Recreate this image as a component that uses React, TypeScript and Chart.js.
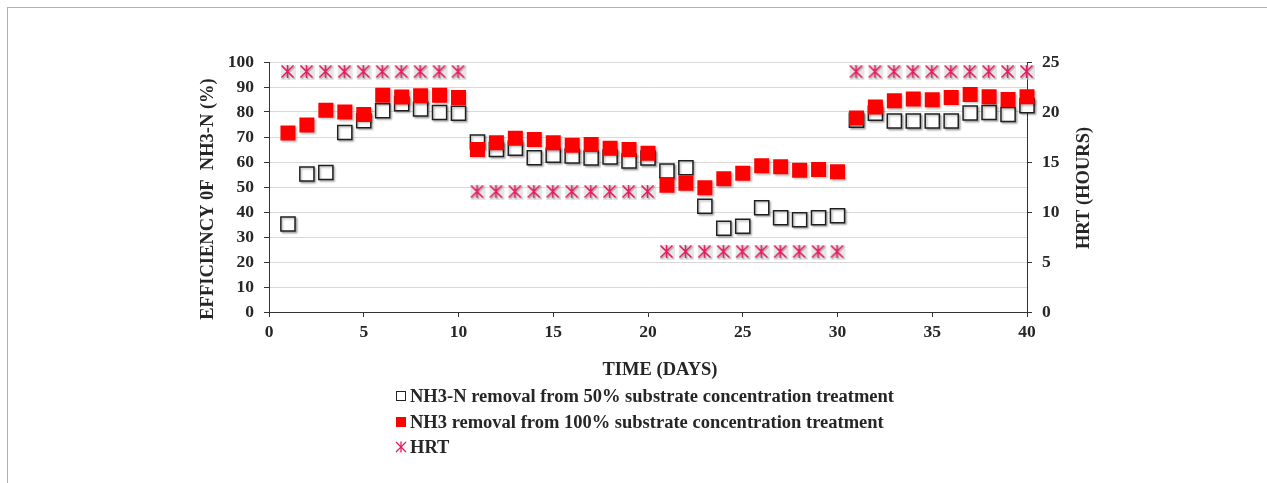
import React, { useEffect, useRef } from "react";
import { Chart, registerables } from "chart.js";

Chart.register(...registerables);

const days: number[] = Array.from({ length: 40 }, (_, i) => i + 1);

const removal50: number[] = [
  35.2, 55.2, 55.8, 71.8, 76.5, 80.5, 83.3, 81.2, 79.8, 79.5,
  68.0, 65.0, 65.5, 61.7, 62.7, 62.4, 61.6, 62.0, 60.4, 61.6,
  56.4, 57.7, 42.3, 33.5, 34.3, 41.7, 37.7, 36.9, 37.7, 38.5,
  76.7, 79.5, 76.4, 76.4, 76.4, 76.4, 79.6, 79.8, 79.0, 82.5,
];

const removal100: number[] = [
  71.6, 74.8, 80.7, 80.0, 79.0, 86.7, 86.0, 86.5, 86.7, 85.8,
  65.0, 67.7, 69.5, 69.0, 67.7, 66.7, 67.0, 65.5, 65.0, 63.5,
  50.7, 51.5, 49.7, 53.3, 55.5, 58.5, 58.1, 56.7, 57.0, 56.1,
  77.6, 82.0, 84.5, 85.2, 84.9, 85.8, 87.0, 86.1, 85.0, 86.1,
];

const hrt: number[] = [
  24, 24, 24, 24, 24, 24, 24, 24, 24, 24,
  12, 12, 12, 12, 12, 12, 12, 12, 12, 12,
  6, 6, 6, 6, 6, 6, 6, 6, 6, 6,
  24, 24, 24, 24, 24, 24, 24, 24, 24, 24,
];

const legendLabels: string[] = [
  "NH3-N removal from 50% substrate concentration treatment",
  "NH3 removal from 100% substrate concentration treatment",
  "HRT",
];

const xTitle = "TIME (DAYS)";
const yTitle = "EFFICIENCY 0F  NH3-N (%)";
const y2Title = "HRT (HOURS)";

const FONT = "'Liberation Serif', 'Times New Roman', serif";
const PINK = "#e8185e";
const TEXT = "#262626";
const TITLE_SIZE = 18.5;
const TICK_SIZE = 17.5;

function makeStar(): HTMLCanvasElement {
  const c = document.createElement("canvas");
  c.width = 18;
  c.height = 18;
  const ctx = c.getContext("2d")!;
  const draw = (ox: number, oy: number, color: string, w: number) => {
    ctx.strokeStyle = color;
    ctx.lineWidth = w;
    ctx.beginPath();
    ctx.moveTo(2.5 + ox, 2.5 + oy);
    ctx.lineTo(14.5 + ox, 14.5 + oy);
    ctx.moveTo(14.5 + ox, 2.5 + oy);
    ctx.lineTo(2.5 + ox, 14.5 + oy);
    ctx.moveTo(8.5 + ox, 2 + oy);
    ctx.lineTo(8.5 + ox, 15 + oy);
    ctx.stroke();
  };
  ctx.fillStyle = "rgba(200,200,200,0.45)";
  ctx.fillRect(2, 2, 15, 15);
  draw(1.2, 1.2, "rgba(140,140,140,0.55)", 1.6);
  draw(0, 0, PINK, 1.5);
  return c;
}

function LegendStar() {
  return (
    <svg width="12" height="12" viewBox="0 0 12 12" style={{ display: "block" }}>
      <g stroke={PINK} strokeWidth="1.3">
        <line x1="1" y1="1" x2="11" y2="11" />
        <line x1="11" y1="1" x2="1" y2="11" />
        <line x1="6" y1="0.5" x2="6" y2="11.5" />
      </g>
    </svg>
  );
}

export default function App() {
  const canvasRef = useRef<HTMLCanvasElement | null>(null);

  useEffect(() => {
    if (!canvasRef.current) return;
    const star = makeStar();
    const shadowPlugin = {
      id: "squareShadow",
      beforeDatasetDraw(chart: any, args: any) {
        if (args.index < 2) {
          const ctx = chart.ctx;
          ctx.save();
          ctx.shadowColor = "rgba(0,0,0,0.28)";
          ctx.shadowOffsetX = 1.5;
          ctx.shadowOffsetY = 1.5;
          ctx.shadowBlur = 2;
        }
      },
      afterDatasetDraw(chart: any, args: any) {
        if (args.index < 2) chart.ctx.restore();
      },
    };
    const titlePlugin = {
      id: "axisTitles",
      afterDraw(chart: any) {
        const { ctx, chartArea } = chart;
        const { left, right, top, bottom } = chartArea;
        ctx.save();
        ctx.font = `bold ${TITLE_SIZE}px ${FONT}`;
        ctx.fillStyle = TEXT;
        ctx.textAlign = "center";
        ctx.textBaseline = "middle";
        ctx.fillText(xTitle, (left + right) / 2 + 12, bottom + 58);
        ctx.save();
        ctx.translate(left - 61, (top + bottom) / 2 + 12);
        ctx.rotate(-Math.PI / 2);
        ctx.fillText(yTitle, 0, 0);
        ctx.restore();
        ctx.save();
        ctx.translate(right + 57, (top + bottom) / 2 + 1);
        ctx.rotate(-Math.PI / 2);
        ctx.fillText(y2Title, 0, 0);
        ctx.restore();
        ctx.restore();
      },
    };
    const tickFont = { family: FONT, size: TICK_SIZE, weight: "bold" as const };
    const chart = new Chart(canvasRef.current, {
      type: "scatter",
      data: {
        datasets: [
          {
            label: legendLabels[1],
            data: days.map((d, i) => ({ x: d, y: removal100[i] })),
            pointStyle: "rect",
            pointRadius: 10.6,
            backgroundColor: "#ff0000",
            borderColor: "#ff0000",
            borderWidth: 0,
            yAxisID: "y",
            clip: false,
          },
          {
            label: legendLabels[0],
            data: days.map((d, i) => ({ x: d, y: removal50[i] })),
            pointStyle: "rect",
            pointRadius: 10,
            backgroundColor: "#ffffff",
            borderColor: "#1f1f1f",
            borderWidth: 1.5,
            yAxisID: "y",
            clip: false,
          },
          {
            label: legendLabels[2],
            data: days.map((d, i) => ({ x: d, y: hrt[i] })),
            pointStyle: star as any,
            pointRadius: 8,
            yAxisID: "y2",
            clip: false,
          },
        ],
      },
      options: {
        animation: false,
        responsive: true,
        maintainAspectRatio: false,
        layout: { padding: { left: 196, right: 169, top: 62, bottom: 98 } },
        plugins: { legend: { display: false }, tooltip: { enabled: false } },
        scales: {
          x: {
            type: "linear",
            min: 0,
            max: 40,
            afterFit: (s: any) => {
              s.height = 73;
            },
            ticks: { stepSize: 5, color: TEXT, font: tickFont, padding: 5, maxRotation: 0 },
            grid: { drawOnChartArea: false, tickLength: 5, tickColor: "#333", drawTicks: true },
            border: { color: "#333", width: 1 },
          },
          y: {
            type: "linear",
            position: "left",
            min: 0,
            max: 100,
            afterFit: (s: any) => {
              s.width = 73;
            },
            ticks: { stepSize: 10, color: TEXT, font: tickFont, padding: 10 },
            grid: { color: "#d9d9d9", lineWidth: 1, tickLength: 5, tickColor: "#333" },
            border: { color: "#333", width: 1 },
          },
          y2: {
            type: "linear",
            position: "right",
            min: 0,
            max: 25,
            afterFit: (s: any) => {
              s.width = 71;
            },
            ticks: { stepSize: 5, color: TEXT, font: tickFont, padding: 10 },
            grid: { drawOnChartArea: false, tickLength: 5, tickColor: "#333" },
            border: { color: "#333", width: 1 },
          },
        },
      },
      plugins: [shadowPlugin, titlePlugin],
    });
    return () => chart.destroy();
  }, []);

  const legendText: React.CSSProperties = {
    position: "absolute",
    left: 410,
    fontFamily: FONT,
    fontWeight: "bold",
    fontSize: TITLE_SIZE,
    color: TEXT,
    lineHeight: "20px",
    whiteSpace: "nowrap",
  };

  return (
    <div
      style={{
        position: "fixed",
        left: 0,
        top: 0,
        width: 1267,
        height: 483,
        background: "#fff",
        overflow: "hidden",
      }}
    >
      <div
        style={{
          position: "absolute",
          left: 7,
          top: 7,
          width: 1300,
          height: 520,
          borderTop: "1px solid #b0b0b0",
          borderLeft: "1px solid #b0b0b0",
        }}
      />
      <div style={{ position: "absolute", left: 0, top: 0, width: 1267, height: 483 }}>
        <canvas ref={canvasRef} />
      </div>
      <div
        style={{
          position: "absolute",
          left: 396,
          top: 391,
          width: 8,
          height: 8,
          border: "1px solid #222",
          background: "#fff",
        }}
      />
      <div style={{ ...legendText, top: 386 }}>{legendLabels[0]}</div>
      <div
        style={{ position: "absolute", left: 396, top: 417, width: 10, height: 10, background: "#ff0000" }}
      />
      <div style={{ ...legendText, top: 411.5 }}>{legendLabels[1]}</div>
      <div style={{ position: "absolute", left: 395, top: 441 }}>
        <LegendStar />
      </div>
      <div style={{ ...legendText, top: 436.5 }}>{legendLabels[2]}</div>
    </div>
  );
}
